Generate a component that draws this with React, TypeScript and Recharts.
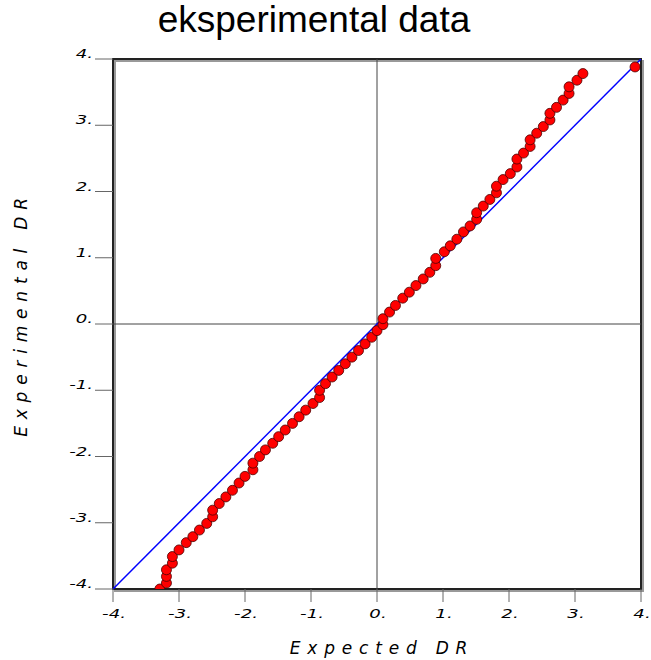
import React from 'react';
import {
  ScatterChart, Scatter, XAxis, YAxis, ReferenceLine, ReferenceArea,
} from 'recharts';

const expectedDR = [
  -3.29, -3.19, -3.19, -3.19, -3.10, -3.10, -3.00, -2.89, -2.79, -2.69,
  -2.58, -2.49, -2.49, -2.39, -2.29, -2.19, -2.09, -2.00, -1.88, -1.88,
  -1.78, -1.69, -1.58, -1.49, -1.39, -1.28, -1.18, -1.08, -0.97, -0.87,
  -0.87, -0.78, -0.68, -0.58, -0.48, -0.38, -0.28, -0.18, -0.08, 0.00,
  0.09, 0.09, 0.19, 0.28, 0.39, 0.49, 0.59, 0.70, 0.80, 0.89,
  0.89, 1.02, 1.11, 1.21, 1.31, 1.41, 1.51, 1.51, 1.61, 1.71,
  1.81, 1.81, 1.91, 2.02, 2.12, 2.12, 2.22, 2.32, 2.32, 2.42,
  2.52, 2.62, 2.62, 2.72, 2.82, 2.91, 2.91, 3.03, 3.12, 3.91,
];
const experimentalDR = [
  -4.00, -3.91, -3.81, -3.71, -3.61, -3.51, -3.41, -3.30, -3.21, -3.11,
  -3.01, -2.91, -2.81, -2.71, -2.61, -2.51, -2.40, -2.30, -2.20, -2.10,
  -2.00, -1.90, -1.80, -1.70, -1.60, -1.50, -1.40, -1.30, -1.20, -1.11,
  -1.00, -0.90, -0.80, -0.70, -0.60, -0.50, -0.40, -0.30, -0.20, -0.10,
  -0.01, 0.08, 0.18, 0.28, 0.39, 0.48, 0.58, 0.68, 0.78, 0.88,
  0.99, 1.09, 1.18, 1.28, 1.39, 1.48, 1.58, 1.68, 1.78, 1.88,
  1.98, 2.08, 2.18, 2.27, 2.37, 2.49, 2.58, 2.68, 2.78, 2.88,
  2.98, 3.08, 3.18, 3.27, 3.38, 3.48, 3.58, 3.68, 3.78, 3.88,
];
const diagonal = [-4, 4];
const axisTicks = [-4, -3, -2, -1, 0, 1, 2, 3, 4];

const FONT = '"Liberation Sans", Arial, sans-serif';
const TICK_FONT = '"DejaVu Sans", sans-serif';

const points = expectedDR.map((x, i) => ({ x, y: experimentalDR[i] }));
const diagData = diagonal.map(v => ({ x: v, y: v }));

// tick labels in the original are short and wide, so stretch them sideways
const TickText = ({ x, y, anchor, value }: any) => (
  <g transform={`translate(${x},${y}) scale(1.45,1)`}>
    <text x={0} y={0} textAnchor={anchor} fontFamily={TICK_FONT} fontSize={12.5}
      fontStyle="italic" fill="#000">{`${value}.`}</text>
  </g>
);

const XTick = (props: any) => {
  const { x, y, payload } = props;
  return (
    <g>
      <line x1={x} y1={y} x2={x} y2={y + 13} stroke="#666" strokeWidth={1} />
      <TickText x={x + 1} y={y + 29} anchor="middle" value={payload.value} />
    </g>
  );
};

const YTick = (props: any) => {
  const { x, y, payload } = props;
  return (
    <g>
      <line x1={x - 18} y1={y} x2={x} y2={y} stroke="#666" strokeWidth={1} />
      <TickText x={x - 20} y={y - 1} anchor="end" value={payload.value} />
    </g>
  );
};

const Dot = (p: any) => (
  <circle cx={p.cx} cy={p.cy} r={5} fill="#ff0000" stroke="#4a0000" strokeWidth={0.8} />
);

const Frame = (p: any) => (
  <g>
    <rect x={p.x + 2} y={p.y + 2} width={p.width} height={p.height} fill="none" stroke="#999" strokeWidth={2} />
    <rect x={p.x} y={p.y} width={p.width} height={p.height} fill="none" stroke="#222" strokeWidth={2} />
  </g>
);

export default function App() {
  return (
    <div style={{ position: 'absolute', left: 0, top: 0, width: 651, height: 660, background: '#fff' }}>
      <div style={{
        position: 'absolute', left: 0, top: 0, width: 628, textAlign: 'center',
        fontFamily: FONT, fontSize: 37, lineHeight: '40px', color: '#000',
      }}>
        eksperimental data
      </div>
      <ScatterChart width={651} height={660} margin={{ top: 59, right: 10, left: 0, bottom: 0 }}
        style={{ overflow: 'visible' }}>
        <XAxis
          type="number" dataKey="x" domain={[-4, 4]} ticks={axisTicks} allowDataOverflow
          height={71} axisLine={false} tickLine={false} tickSize={0} tickMargin={0}
          tick={<XTick />}
          label={{
            content: (lp: any) => {
              const vb = lp.viewBox;
              return (
                <text x={vb.x + vb.width / 2 + 5} y={vb.y + vb.height - 6} textAnchor="middle"
                  fontFamily={TICK_FONT} fontSize={17} fontStyle="italic" letterSpacing={6.8} fill="#000">
                  Expected DR
                </text>
              );
            },
          }}
        />
        <YAxis
          type="number" dataKey="y" domain={[-4, 4]} ticks={axisTicks} allowDataOverflow
          width={113} axisLine={false} tickLine={false} tickSize={0} tickMargin={0}
          tick={<YTick />}
          label={{
            content: () => (
              <text x={27} y={314} transform="rotate(-90, 27, 314)" textAnchor="middle"
                fontFamily={TICK_FONT} fontSize={17} fontStyle="italic" letterSpacing={6.8} fill="#000">
                Experimental DR
              </text>
            ),
          }}
        />
        <ReferenceArea x1={-4} x2={4} y1={-4} y2={4} shape={<Frame />} ifOverflow="visible" />
        <ReferenceLine x={0} stroke="#444" strokeWidth={1} />
        <ReferenceLine y={0} stroke="#444" strokeWidth={1} />
        <Scatter data={diagData} line={{ stroke: '#0000ff', strokeWidth: 1.5 }} shape={() => null}
          isAnimationActive={false} />
        <Scatter data={points} shape={<Dot />} isAnimationActive={false} />
      </ScatterChart>
    </div>
  );
}
